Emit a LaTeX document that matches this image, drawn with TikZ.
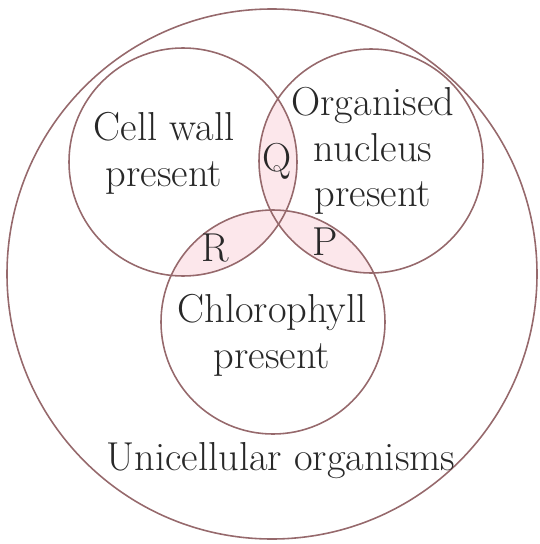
\documentclass[tikz,border=0pt]{standalone}
\definecolor{ringline}{RGB}{150,105,108}
\definecolor{lensfill}{RGB}{252,231,235}
\definecolor{labeltext}{RGB}{40,40,40}
\tikzset{
  ring/.style={draw=ringline, line width=0.9pt},
  lens/.style={fill=lensfill},
  setlabel/.style={text=labeltext, align=center, font=\fontsize{23}{26}\selectfont},
}
\begin{document}
\begin{tikzpicture}[x=0.02cm,y=-0.02cm]
\useasboundingbox (0,0) rectangle (540,544);
% shaded overlaps
\begin{scope}
\clip (183,162) circle (114);
\fill[lens] (371,161) circle (112);
\fill[lens] (273,322) circle (112);
\end{scope}
\begin{scope}
\clip (371,161) circle (112);
\fill[lens] (273,322) circle (112);
\end{scope}

% circles
\draw[ring] (272,274) circle (265);
\draw[ring] (183,162) circle (114);
\draw[ring] (371,161) circle (112);
\draw[ring] (273,322) circle (112);

% labels
\node[setlabel] (wall) at (164,153) {Cell wall\\present};
\node[setlabel] (nucleus) at (373,151) {Organised\\nucleus\\present};
\node[setlabel] (chloro) at (272,335) {Chlorophyll\\present};
\node[setlabel] (uni) at (281,461) {Unicellular organisms};
\node[setlabel] (Q) at (277,161) {Q};
\node[setlabel] (R) at (215,248) {R};
\node[setlabel] (P) at (325,242) {P};
\end{tikzpicture}
\end{document}
